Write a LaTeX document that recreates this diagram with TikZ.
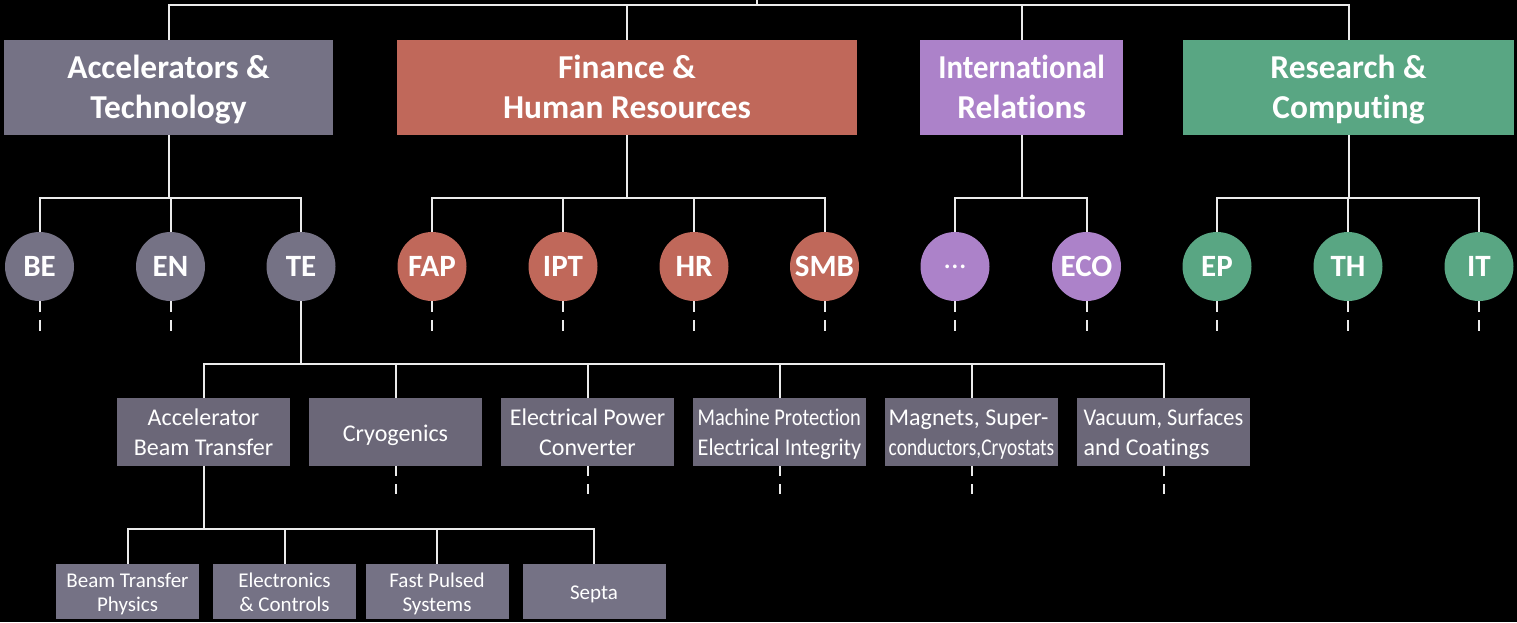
\documentclass[tikz,border=0pt]{standalone}
\usepackage{fontspec}
\setmainfont{Carlito}[Ligatures=NoCommon]
\usepackage{graphicx}
\definecolor{atgray}{RGB}{117,114,133}
\definecolor{subgray}{RGB}{107,103,120}
\definecolor{fhrred}{RGB}{192,104,90}
\definecolor{irpurple}{RGB}{172,130,201}
\definecolor{rcgreen}{RGB}{89,166,131}
\definecolor{linewhite}{RGB}{235,235,235}
\newcommand\bigtop{\rule{0pt}{16pt}}
\newcommand\bigbot{\rule[-5.5pt]{0pt}{5.5pt}}
\newcommand\midtop{\rule{0pt}{12.5pt}}
\newcommand\midbot{\rule[-4pt]{0pt}{4pt}}
\newcommand\midone{\rule[-4pt]{0pt}{17.5pt}}
\newcommand\smtop{\rule{0pt}{11pt}}
\newcommand\smbot{\rule[-3.5pt]{0pt}{3.5pt}}
\tikzset{
  bigbox/.style={rectangle, inner sep=0pt, minimum height=47.5pt, text=white,
    font=\fontsize{16.7}{20}\selectfont\bfseries, align=center},
  unit/.style={circle, inner sep=0pt, minimum size=34.5pt, text=white,
    font=\fontsize{15.5}{18}\selectfont\bfseries},
  secbox/.style={rectangle, inner sep=0pt, fill=subgray, minimum width=86.5pt,
    minimum height=34pt, text=white, font=\fontsize{12}{15}\selectfont, align=center},
  grpbox/.style={rectangle, inner sep=0pt, fill=atgray, minimum width=71.5pt,
    minimum height=27.5pt, text=white, font=\fontsize{10.5}{12}\selectfont, align=center},
  conn/.style={draw=linewhite, line width=1pt},
  stub/.style={draw=linewhite, line width=1pt, dash pattern=on 5.5pt off 4pt},
  stubb/.style={draw=linewhite, line width=1pt, dash pattern=on 5pt off 4pt},
}
\begin{document}
\begin{tikzpicture}[x=0.5pt, y=-0.5pt]
\fill[black] (0,0) rectangle (1517,622);
\useasboundingbox (0,0) rectangle (1517,622);

% departments
\node[bigbox, fill=atgray, minimum width=164.5pt] (AT) at (168.5,87.5) {\bigtop Accelerators \&\\Technology\bigbot};
\node[bigbox, fill=fhrred, minimum width=230pt] (FHR) at (627,87.5) {\bigtop Finance \&\\Human Resources\bigbot};
\node[bigbox, fill=irpurple, minimum width=101.5pt] (IR) at (1021.5,87.5) {\bigtop\scalebox{0.92}[1]{International}\\Relations\bigbot};
\node[bigbox, fill=rcgreen, minimum width=165.5pt] (RC) at (1348.5,87.5) {\bigtop Research \&\\Computing\bigbot};

% units
\node[unit, fill=atgray] (BE) at (39.5,266.5) {BE};
\node[unit, fill=atgray] (EN) at (170.5,266.5) {EN};
\node[unit, fill=atgray] (TE) at (301,266.5) {TE};
\node[unit, fill=fhrred] (FAP) at (432,266.5) {FAP};
\node[unit, fill=fhrred] (IPT) at (563,266.5) {IPT};
\node[unit, fill=fhrred] (HR) at (694,266.5) {HR};
\node[unit, fill=fhrred] (SMB) at (824.5,266.5) {SMB};
\node[unit, fill=irpurple] (DOTS) at (955,266.5) {\mdseries …};
\node[unit, fill=irpurple] (ECO) at (1086.5,266.5) {ECO};
\node[unit, fill=rcgreen] (EP) at (1217,266.5) {EP};
\node[unit, fill=rcgreen] (TH) at (1348,266.5) {TH};
\node[unit, fill=rcgreen] (IT) at (1479,266.5) {IT};

% TE groups
\node[secbox] (ABT) at (203.5,432) {\midtop Accelerator\\Beam Transfer\midbot};
\node[secbox] (CRG) at (395.5,432) {\midone Cryogenics};
\node[secbox] (EPC) at (587.5,432) {\midtop Electrical Power\\Converter\midbot};
\node[secbox, align=left] (MPE) at (779.5,432) {\midtop\scalebox{0.85}[1]{Machine Protection}\\\scalebox{0.93}[1]{Electrical Integrity}\midbot};
\node[secbox, align=left] (MSC) at (971.5,432) {\midtop Magnets, Super-\\\scalebox{0.81}[1]{conductors,Cryostats}\midbot};
\node[secbox, align=left] (VSC) at (1163.5,432) {\midtop\scalebox{0.93}[1]{Vacuum, Surfaces}\\and Coatings\midbot};

% ABT sections
\node[grpbox] (BTP) at (127.5,591.5) {\smtop Beam Transfer\\Physics\smbot};
\node[grpbox] (EC) at (284.5,591.5) {\smtop Electronics\\\& Controls\smbot};
\node[grpbox] (FPS) at (437,591.5) {\smtop Fast Pulsed\\Systems\smbot};
\node[grpbox] (SEP) at (594,591.5) {\smtop Septa\smbot};

% top level connectors
\coordinate (root) at (757,0);
\coordinate (topbar) at (757,5);
\draw[conn] (root) -- (topbar);
\draw[conn] (AT.north) |- (topbar) -| (RC.north);
\draw[conn] (FHR.north) -- (FHR.north |- topbar);
\draw[conn] (IR.north) -- (IR.north |- topbar);

% department to units
\draw[conn] (AT.south) -- (AT.south |- 0,198);
\draw[conn] (BE.north) |- (TE.north |- 0,198) -- (TE.north);
\draw[conn] (EN.north) -- (EN.north |- 0,198);

\draw[conn] (FHR.south) -- (FHR.south |- 0,198);
\draw[conn] (FAP.north) |- (SMB.north |- 0,198) -- (SMB.north);
\draw[conn] (IPT.north) -- (IPT.north |- 0,198);
\draw[conn] (HR.north) -- (HR.north |- 0,198);

\draw[conn] (IR.south) -- (IR.south |- 0,198);
\draw[conn] (DOTS.north) |- (ECO.north |- 0,198) -- (ECO.north);

\draw[conn] (RC.south) -- (RC.south |- 0,198);
\draw[conn] (EP.north) |- (IT.north |- 0,198) -- (IT.north);
\draw[conn] (TH.north) -- (TH.north |- 0,198);

% unit stubs
\foreach \n in {BE,EN,FAP,IPT,HR,SMB,DOTS,ECO,EP,TH,IT}
  \draw[stub] (\n.south) -- ++(0,30);

% TE to groups
\draw[conn] (TE.south) -- (TE.south |- 0,364);
\draw[conn] (ABT.north) |- (VSC.north |- 0,364) -- (VSC.north);
\foreach \n in {CRG,EPC,MPE,MSC}
  \draw[conn] (\n.north) -- (\n.north |- 0,364);
\foreach \n in {CRG,EPC,MPE,MSC,VSC}
  \draw[stubb] (\n.south) -- ++(0,28);

% ABT to sections
\draw[conn] (ABT.south) -- (ABT.south |- 0,529);
\draw[conn] (BTP.north) |- (SEP.north |- 0,529) -- (SEP.north);
\draw[conn] (EC.north) -- (EC.north |- 0,529);
\draw[conn] (FPS.north) -- (FPS.north |- 0,529);
\end{tikzpicture}
\end{document}
